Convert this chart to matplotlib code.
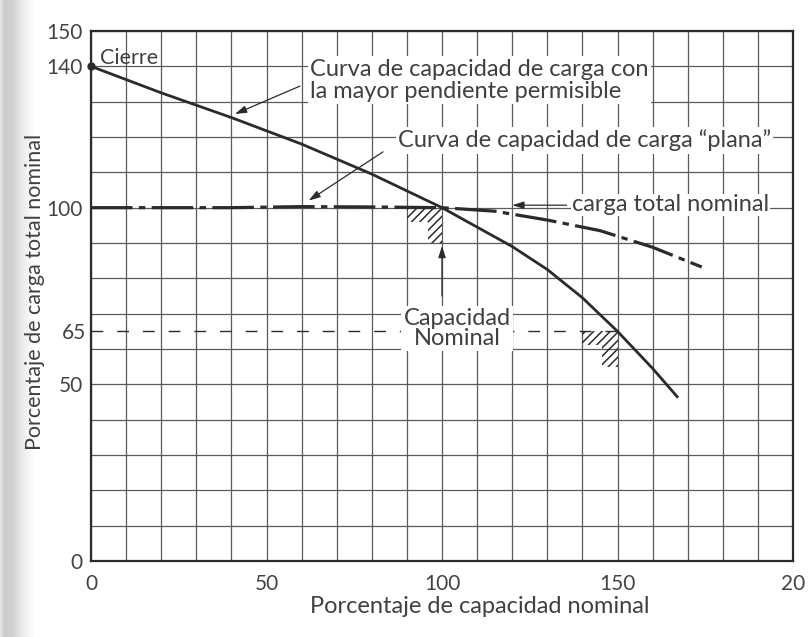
import numpy as np
import matplotlib.pyplot as plt
from matplotlib.patches import Polygon

# solid curve: steepest allowed load-capacity curve
steep_x = [0, 20, 40, 60, 80, 100, 120, 130, 140, 150, 160, 167]
steep_y = [140, 132.5, 125.5, 118, 109.5, 100, 89, 82.5, 74.5, 65, 54.5, 46.5]

# dash-dot curve: "flat" load-capacity curve
flat_x = [0, 20, 40, 60, 80, 100, 115, 130, 145, 160, 174]
flat_y = [100, 100, 100, 100.3, 100.2, 100, 99, 96.5, 93.5, 88.8, 83.2]

# 65 % reference line
ref_x = [0, 150]
ref_y = [65, 65]

# hatched corners at the rated points
hatch_a = [(90, 100), (100, 100), (100, 90), (96, 90), (96, 96), (90, 96)]
hatch_b = [(140, 65), (150, 65), (150, 55), (145.5, 55), (145.5, 61), (140, 61)]

xtick_pos = [0, 50, 100, 150, 200]
xtick_lab = ['0', '50', '100', '150', '20']
ytick_pos = [0, 50, 100, 140, 150]
ytick_lab = ['0', '50', '100', '140', '150']

plt.rcParams['font.family'] = ['Lato', 'DejaVu Sans']
plt.rcParams['hatch.linewidth'] = 1.1

ink = '#2b2b2b'
txt = '#404040'

fig = plt.figure(figsize=(8.09, 6.37), dpi=100)

# scanned page shadow on the left edge
strip = fig.add_axes([0, 0, 45 / 809, 1], zorder=-5)
cols = np.interp(np.arange(45), [0, 4, 12, 22, 35, 44], [0.90, 0.80, 0.82, 0.92, 1.0, 1.0])
strip.imshow(np.tile(cols, (10, 1)), cmap='gray', vmin=0, vmax=1, aspect='auto')
strip.axis('off')

ax = fig.add_axes([91 / 809, 1 - 561 / 637, 702 / 809, 530 / 637])
ax.patch.set_alpha(0)
ax.set_xlim(0, 200)
ax.set_ylim(0, 150)

ax.set_xticks(np.arange(0, 201, 10))
ax.set_xticklabels([xtick_lab[xtick_pos.index(v)] if v in xtick_pos else '' for v in range(0, 201, 10)])
ax.set_yticks(np.arange(0, 151, 10))
ax.set_yticklabels([ytick_lab[ytick_pos.index(v)] if v in ytick_pos else '' for v in range(0, 151, 10)])
ax.set_yticks([65], minor=True)
ax.set_yticklabels(['65'], minor=True)
ax.tick_params(axis='both', which='both', length=0, labelsize=15, labelcolor='#444444')
ax.tick_params(axis='x', pad=9)
ax.tick_params(axis='y', pad=6)
ax.grid(True, which='major', color='#5a5a5a', linewidth=0.9)
ax.set_axisbelow(True)
for s in ax.spines.values():
    s.set_color(ink)
    s.set_linewidth(1.6)

ax.plot(ref_x, ref_y, color=ink, linewidth=1.0, dashes=(8.5, 10), zorder=1.5)
ax.plot(steep_x, steep_y, color=ink, linewidth=2.0, zorder=3)
ax.plot(steep_x[:1], steep_y[:1], 'o', color=ink, markersize=5, clip_on=False, zorder=3)
ax.plot(flat_x, flat_y, color=ink, linewidth=2.3, dashes=(13, 2, 2, 2), zorder=3)

for pts in (hatch_a, hatch_b):
    ax.add_patch(Polygon(pts, closed=True, facecolor='none', edgecolor=ink,
                         linewidth=0, hatch='////', zorder=2))

box = dict(facecolor='white', edgecolor='none', pad=1.5)
ax.text(2.6, 142.5, 'Cierre', fontsize=15.5, color=txt, ha='left', va='center')
ax.text(62.4, 136, 'Curva de capacidad de carga con\nla mayor pendiente permisible',
        fontsize=17, color=txt, ha='left', va='center', linespacing=1.1, bbox=box, zorder=2.5)
ax.text(87.5, 119, 'Curva de capacidad de carga \u201cplana\u201d',
        fontsize=17, color=txt, ha='left', va='center', bbox=box, zorder=2.5)
ax.text(137, 100.8, 'carga total nominal', fontsize=17, color=txt,
        ha='left', va='center', bbox=dict(facecolor='white', edgecolor='none', pad=0.5), zorder=2.5)
ax.text(104.3, 65.8, 'Capacidad\nNominal', fontsize=17, color=txt, ha='center', va='center',
        linespacing=0.95, bbox=box, zorder=2.5)

arrow = dict(arrowstyle='-|>,head_length=0.7,head_width=0.22', color=ink, linewidth=0.9,
             shrinkA=0, shrinkB=0)
ax.annotate('', xy=(41, 126.5), xytext=(59.5, 134.4), arrowprops=arrow, zorder=3)
ax.annotate('', xy=(62, 102), xytext=(83.2, 115.8), arrowprops=arrow, zorder=3)
ax.annotate('', xy=(120, 100.7), xytext=(135.5, 100.7), arrowprops=arrow, zorder=3)
ax.annotate('', xy=(100, 89.2), xytext=(100, 75), arrowprops=arrow, zorder=3)

ax.set_xlabel('Porcentaje de capacidad nominal', fontsize=17, color=txt)
ax.xaxis.set_label_coords(0.554, -0.066)
ax.set_ylabel('Porcentaje de carga total nominal', fontsize=15.5, color=txt)
ax.yaxis.set_label_coords(-0.066, 0.508)

fig.savefig('out.png', dpi=100)
